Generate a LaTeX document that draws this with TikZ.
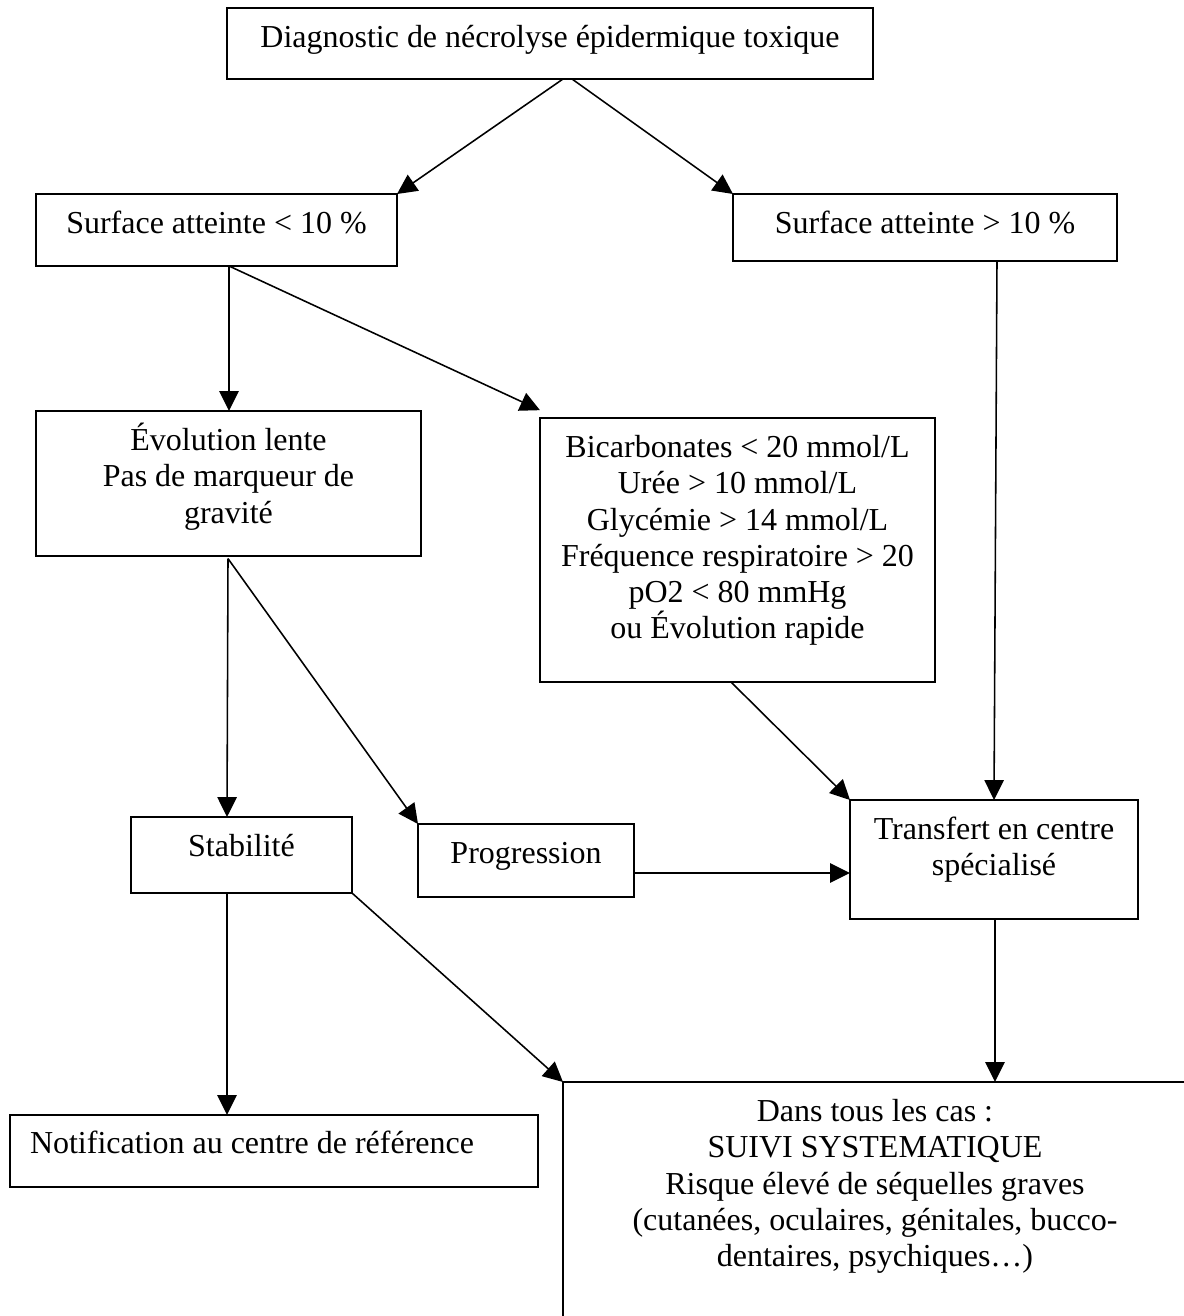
\documentclass[tikz,border=0pt]{standalone}
\usepackage{fontspec}
\setmainfont{Liberation Serif}
\usetikzlibrary{arrows.meta}
\newdimen\px \px=0.383pt
\newcommand\bxc[3]{\parbox[c][#2\px][t]{#1\px}{\centering\rule{0pt}{15.3pt}#3}}
\newcommand\bxl[3]{\parbox[c][#2\px][t]{#1\px}{\hspace*{20\px}\rule{0pt}{14.6pt}#3}}
\begin{document}
\begin{tikzpicture}[x=0.383pt,y=-0.383pt,
  box/.style={draw, line width=0.75pt, inner sep=0pt, outer sep=0pt, anchor=north west,
    font=\fontsize{12.25}{13.8}\selectfont},
  arr/.style={-{Triangle[length=7.6pt,width=7.4pt]}, line width=0.6pt}]
\useasboundingbox (0,0) rectangle (1184,1316);
\fill[white] (0,0) rectangle (1184,1316);
\clip (0,0) rectangle (1184,1316);
\node[box] (diag) at (227,8) {\bxc{646}{71}{Diagnostic de nécrolyse épidermique toxique}};
\node[box] (sl) at (36,194) {\bxc{361}{72}{Surface atteinte < 10 \%}};
\node[box] (sg) at (733,194) {\bxc{384}{67}{Surface atteinte > 10 \%}};
\node[box] (evo) at (36,411) {\bxc{385}{145}{Évolution lente\\Pas de marqueur de\\gravité}};
\node[box] (bic) at (540,418) {\bxc{395}{264}{Bicarbonates < 20 mmol/L\\Urée > 10 mmol/L\\Glycémie > 14 mmol/L\\Fréquence respiratoire > 20\\pO2 < 80 mmHg\\ou Évolution rapide}};
\node[box] (sta) at (131,817) {\bxc{221}{76}{Stabilité}};
\node[box] (pro) at (418,824) {\bxc{216}{73}{Progression}};
\node[box] (tra) at (850,800) {\bxc{288}{119}{Transfert en centre\\spécialisé}};
\node[box] (notif) at (10,1115) {\bxl{528}{72}{Notification au centre de référence}};
\node[box] (dans) at (563,1082) {\bxc{624}{260}{Dans tous les cas :\\SUIVI SYSTEMATIQUE\\Risque élevé de séquelles graves\\(cutanées, oculaires, génitales, bucco-\\dentaires, psychiques…)}};
\draw[arr] (diag.south -| 563,0) -- (sl.north east);
\draw[arr] (diag.south -| 572,0) -- (sg.north west);
\draw[arr] (sl.south -| 229,0) -- (evo.north -| 229,0);
\draw[arr] (sl.south -| 229,0) -- ([yshift=3pt]bic.north west);
\draw[arr] (sg.south -| 997,0) -- (tra.north -| 994,0);
\draw[arr] (bic.south -| 731,0) -- (tra.north west);
\draw[arr] (pro.east |- 0,873) -- (tra.west |- 0,873);
\draw[arr] (tra.south -| 995,0) -- (dans.north -| 995,0);
\draw[arr] ([yshift=-1pt]evo.south -| 228,0) -- (sta.north -| 227,0);
\draw[arr] ([yshift=-1pt]evo.south -| 228,0) -- (pro.north west);
\draw[arr] (sta.south -| 227,0) -- (notif.north -| 227,0);
\draw[arr] (sta.south east) -- (dans.north west);
\end{tikzpicture}
\end{document}
